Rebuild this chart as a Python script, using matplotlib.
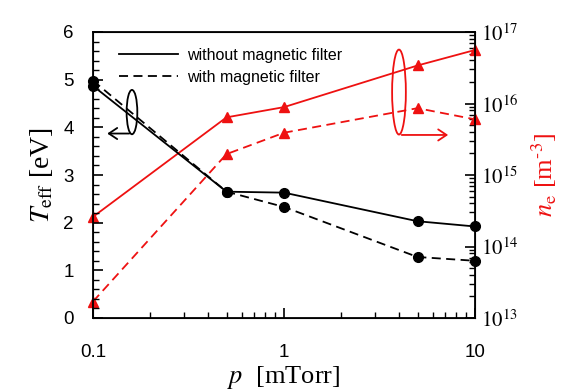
import matplotlib
matplotlib.use("Agg")
import matplotlib.pyplot as plt
from matplotlib.patches import Ellipse, FancyArrowPatch
from matplotlib.ticker import LogLocator, NullFormatter, MultipleLocator, FixedLocator, FixedFormatter

plt.rcParams['mathtext.fontset'] = 'stix'

pressure = [0.1, 0.5, 1, 5, 10]
teff_without = [4.87, 2.65, 2.63, 2.03, 1.92]
teff_with = [4.98, 2.65, 2.33, 1.28, 1.20]
ne_without = [2.6e14, 6.4e15, 8.9e15, 3.4e16, 5.6e16]
ne_with = [1.7e13, 1.96e15, 3.9e15, 8.6e15, 6.0e15]

x_ticks = [0.1, 1, 10]
x_ticklabels = ['0.1', '1', '10']
y_ticks = [0, 1, 2, 3, 4, 5, 6]
ne_ticks = [1e13, 1e14, 1e15, 1e16, 1e17]
ne_ticklabels = [r'$10^{13}$', r'$10^{14}$', r'$10^{15}$', r'$10^{16}$', r'$10^{17}$']

RED = '#ee1111'

fig = plt.figure(figsize=(5.64, 3.9), dpi=100)
ax = fig.add_axes([93/564, 72/390, 382/564, 286/390])
ax2 = ax.twinx()
ax.set_zorder(ax2.get_zorder() + 1)
ax.patch.set_visible(False)

sans = 'Liberation Sans'
serif = 'Liberation Serif'

# Left axis
ax.plot(pressure, teff_without, '-', color='black', lw=1.3, marker='o', ms=7,
        clip_on=False, zorder=5, label='without magnetic filter')
ax.plot(pressure, teff_with, '--', color='black', lw=1.3, marker='o', ms=7,
        dashes=(5, 3), clip_on=False, zorder=5, label='with magnetic filter')
ax.set_xscale('log')
ax.set_xlim(0.1, 10)
ax.set_ylim(0, 6)
ax.xaxis.set_major_locator(FixedLocator(x_ticks))
ax.xaxis.set_major_formatter(FixedFormatter(x_ticklabels))
ax.xaxis.set_minor_locator(LogLocator(base=10, subs=range(2, 10)))
ax.xaxis.set_minor_formatter(NullFormatter())
ax.yaxis.set_major_locator(FixedLocator(y_ticks))
ax.yaxis.set_minor_locator(MultipleLocator(0.2))
ax.tick_params(axis='both', which='major', direction='in', length=7, width=1.2, labelsize=13.5)
ax.tick_params(axis='both', which='minor', direction='in', length=4, width=1)
ax.tick_params(axis='x', which='major', pad=19)
ax.tick_params(axis='y', which='major', pad=14)
for lab in ax.get_xticklabels() + ax.get_yticklabels():
    lab.set_fontfamily(sans)
for s in ax.spines.values():
    s.set_linewidth(1.3)
ax.set_ylabel(r'$T_{\rm eff}$ [eV]', fontsize=20, family=serif, labelpad=6)
ax.set_xlabel(r'$p$  [mTorr]', fontsize=19, family=serif, labelpad=2)

leg = ax.legend(loc='upper left', bbox_to_anchor=(0.03, 0.995), frameon=False,
                prop={'family': sans, 'size': 11.5}, handlelength=3.7,
                handletextpad=0.6, labelspacing=0.45, numpoints=1)
for h in leg.legend_handles:
    h.set_marker('')

# Right axis
ax2.plot(pressure, ne_without, '-', color=RED, lw=1.3, marker='^', ms=7,
         clip_on=False, zorder=4)
ax2.plot(pressure, ne_with, '--', color=RED, lw=1.3, marker='^', ms=7,
         dashes=(5, 3), clip_on=False, zorder=4)
ax2.set_yscale('log')
ax2.set_ylim(1e13, 1e17)
ax2.yaxis.set_major_locator(FixedLocator(ne_ticks))
ax2.yaxis.set_major_formatter(FixedFormatter(ne_ticklabels))
ax2.yaxis.set_minor_locator(LogLocator(base=10, subs=range(2, 10)))
ax2.yaxis.set_minor_formatter(NullFormatter())
ax2.tick_params(axis='y', which='major', direction='in', length=7, width=1.2, labelsize=15, pad=4)
ax2.tick_params(axis='y', which='minor', direction='in', length=4, width=1)
ax2.set_ylabel(r'$n_{\rm e}$ [m$^{\text{-}3}$]', fontsize=19, family=serif, color=RED, labelpad=8)

# Annotations: black ellipse + arrow to left
ax.add_patch(Ellipse((0.102, 0.72), 0.028, 0.155, transform=ax.transAxes,
                     fill=False, ec='black', lw=1.3, zorder=6))
ax.add_patch(FancyArrowPatch((0.102, 0.645), (0.03, 0.645), transform=ax.transAxes,
                             arrowstyle='->,head_length=6,head_width=4', color='black',
                             lw=1.3, zorder=6))
# Red ellipse + arrow to right
ax.add_patch(Ellipse((0.801, 0.79), 0.036, 0.297, transform=ax.transAxes,
                     fill=False, ec=RED, lw=1.3, zorder=6))
ax.add_patch(FancyArrowPatch((0.801, 0.64), (0.937, 0.64), transform=ax.transAxes,
                             arrowstyle='->,head_length=6,head_width=4', color=RED,
                             lw=1.3, zorder=6))

fig.savefig('out.png', dpi=100)
